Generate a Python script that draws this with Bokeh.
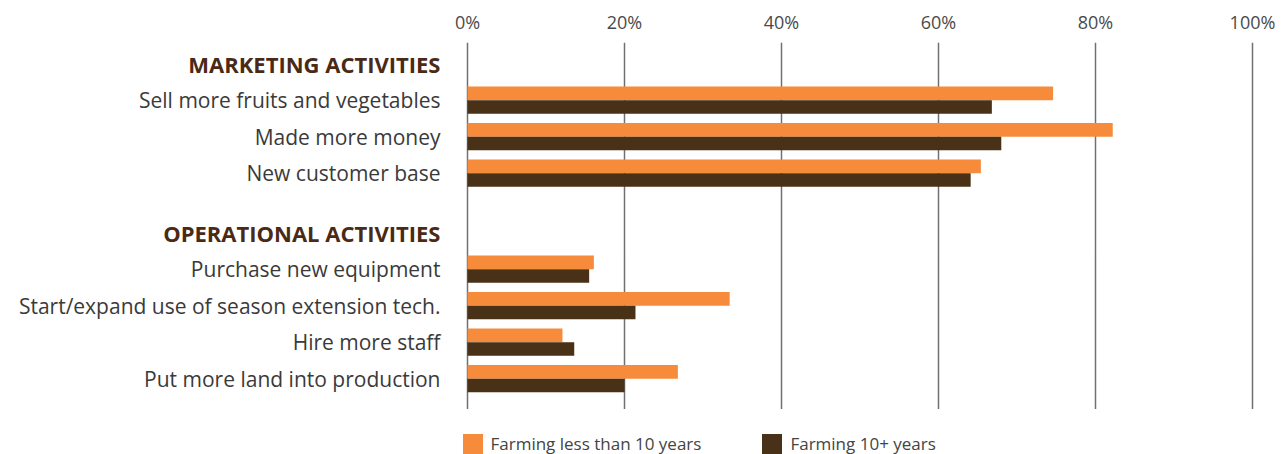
from bokeh.plotting import figure
from bokeh.layouts import column
from bokeh.models import (ColumnDataSource, FixedTicker, PrintfTickFormatter,
                          Range1d, Legend, LegendItem)
from bokeh.core.properties import value
from bokeh.embed import file_html
from bokeh.resources import INLINE

# ---------------- data ----------------
sections = ["MARKETING ACTIVITIES", "OPERATIONAL ACTIVITIES"]
marketing_items = ["Sell more fruits and vegetables", "Made more money", "New customer base"]
operational_items = ["Purchase new equipment", "Start/expand use of season extension tech.",
                     "Hire more staff", "Put more land into production"]
less_than_10_marketing = [74.6, 82.2, 65.4]
ten_plus_marketing = [66.8, 68.0, 64.1]
less_than_10_operational = [16.1, 33.4, 12.1, 26.8]
ten_plus_operational = [15.5, 21.4, 13.6, 20.0]
series_names = ["Farming less than 10 years", "Farming 10+ years"]
x_ticks = [0, 20, 40, 60, 80, 100]

# ---------------- layout (row units) ----------------
FIRST_HEADER = 0.63
HEADER_TO_ITEM = 0.95
SECTION_GAP = 1.68
BAR_OFF = 0.188
BAR_H = 0.375
Y_MAX = 10.055

groups = [marketing_items, operational_items]
header_y = []
item_y = []
y = FIRST_HEADER
for gi, items in enumerate(groups):
    header_y.append(y)
    y += HEADER_TO_ITEM
    for i, _ in enumerate(items):
        item_y.append(y)
        if i < len(items) - 1:
            y += 1
    y += SECTION_GAP

labels = marketing_items + operational_items
less10 = less_than_10_marketing + less_than_10_operational
plus10 = ten_plus_marketing + ten_plus_operational

src_a = ColumnDataSource(dict(y=[v - BAR_OFF for v in item_y], x=less10))
src_b = ColumnDataSource(dict(y=[v + BAR_OFF for v in item_y], x=plus10))
src_lab = ColumnDataSource(dict(y=item_y, t=labels))
src_head = ColumnDataSource(dict(y=header_y, t=sections))

ORANGE = "#F68B3B"
BROWN = "#483117"
FONT = "Open Sans"
W = 1284

p = figure(width=W, height=409,
           x_range=Range1d(start=-59.49, end=104.08),
           y_range=Range1d(start=Y_MAX, end=0),
           x_axis_location="above", y_axis_location=None,
           toolbar_location=None, output_backend="svg",
           min_border_left=0, min_border_right=0,
           min_border_top=42, min_border_bottom=0)
p.outline_line_color = None
p.background_fill_color = "white"
p.border_fill_color = "white"

xa = p.xaxis[0]
xa.ticker = FixedTicker(ticks=x_ticks)
xa.formatter = PrintfTickFormatter(format="%d%%")
xa.axis_line_color = None
xa.major_tick_line_color = None
xa.minor_tick_line_color = None
xa.major_label_standoff = 3
xa.major_label_text_font = FONT
xa.major_label_text_font_size = "18px"
xa.major_label_text_color = "#4a4a4a"

p.xgrid.ticker = FixedTicker(ticks=x_ticks)
p.xgrid.grid_line_color = "#707070"
p.xgrid.grid_line_width = 1.5
p.ygrid.visible = False

r1 = p.hbar(y="y", right="x", left=0, height=BAR_H, source=src_a,
            fill_color=ORANGE, line_color=None)
r2 = p.hbar(y="y", right="x", left=0, height=BAR_H, source=src_b,
            fill_color=BROWN, line_color=None)

p.text(x=0, y="y", text="t", source=src_lab, x_offset=-27, y_offset=0,
       text_align="right", text_baseline="middle",
       text_font=value(FONT), text_font_size="21px", text_color="#3a3a3a")
p.text(x=0, y="y", text="t", source=src_head, x_offset=-27, y_offset=-1,
       text_align="right", text_baseline="middle",
       text_font=value(FONT), text_font_style="bold",
       text_font_size="22px", text_color="#4A2A14")

# ---------------- legend strip ----------------
lg = figure(width=W, height=45, x_range=Range1d(0, 1), y_range=Range1d(0, 1),
            x_axis_location=None, y_axis_location=None,
            toolbar_location=None, output_backend="svg",
            min_border=0)
lg.outline_line_color = None
lg.xgrid.visible = False
lg.ygrid.visible = False
# legend swatches: glyphs placed outside the visible range, only used by the legend
l1 = lg.hbar(y=[5], right=[0], left=0, height=1, fill_color=ORANGE, line_color=None)
l2 = lg.hbar(y=[5], right=[0], left=0, height=1, fill_color=BROWN, line_color=None)
legend = Legend(items=[LegendItem(label=series_names[0], renderers=[l1]),
                       LegendItem(label=series_names[1], renderers=[l2])],
                orientation="horizontal", location=(459.5, -1.5),
                padding=0, margin=0, spacing=58,
                glyph_width=25, glyph_height=25, label_standoff=6,
                label_text_font=FONT, label_text_font_size="17px",
                label_text_color="#444444",
                border_line_color=None, background_fill_alpha=0)
lg.add_layout(legend)

open("out.html", "w").write(file_html(column(p, lg, spacing=0), INLINE))
